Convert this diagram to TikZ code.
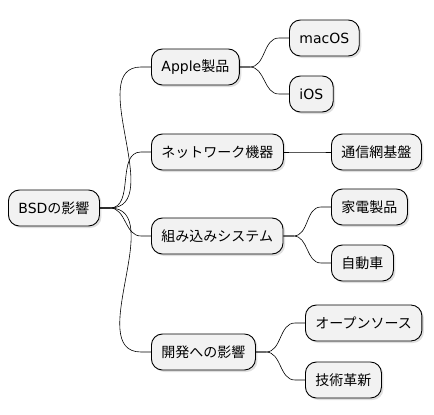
\documentclass[tikz,border=0pt]{standalone}
\usepackage{fontspec}
\setmainfont{Noto Sans CJK JP}
\newfontfamily\dv{DejaVu Sans}
\usetikzlibrary{shadows}

\tikzset{
  topic/.style={draw, line width=0.9pt, fill=gray!10, rounded corners=11pt,
    minimum height=36pt, inner xsep=10pt, anchor=west,
    font=\fontsize{14}{16}\selectfont,
    drop shadow={opacity=0.25, shadow xshift=2pt, shadow yshift=-2pt}},
  branch/.style={line width=0.6pt}
}

\begin{document}
\begin{tikzpicture}[x=1pt, y=-1pt]
  \useasboundingbox (0,0) rectangle (434,415);

  % root
  \node[topic] (bsd) at (8,208) {{\dv BSD}の影響};

  % first level
  \node[topic] (apple) at (151,67) {{\dv Apple}製品};
  \node[topic] (net) at (151,152) {ネットワーク機器};
  \node[topic] (embed) at (151,236) {組み込みシステム};
  \node[topic] (dev) at (151,352) {開発への影響};

  % second level
  \node[topic] (mac) at (289,38) {\dv macOS};
  \node[topic] (ios) at (289,94) {\dv iOS};
  \node[topic] (infra) at (331,152) {通信網基盤};
  \node[topic] (home) at (331,207) {家電製品};
  \node[topic] (car) at (331,263) {自動車};
  \node[topic] (oss) at (305,323) {オープンソース};
  \node[topic] (tech) at (305,380) {技術革新};

  % branches
  \foreach \p/\c in {bsd/apple, bsd/net, bsd/embed, bsd/dev,
                     apple/mac, apple/ios, net/infra, embed/home,
                     embed/car, dev/oss, dev/tech}
    \draw[branch] (\p.east) -- ++(10pt,0) to[out=0,in=180]
      ([xshift=-10pt]\c.west) -- (\c.west);
\end{tikzpicture}
\end{document}
